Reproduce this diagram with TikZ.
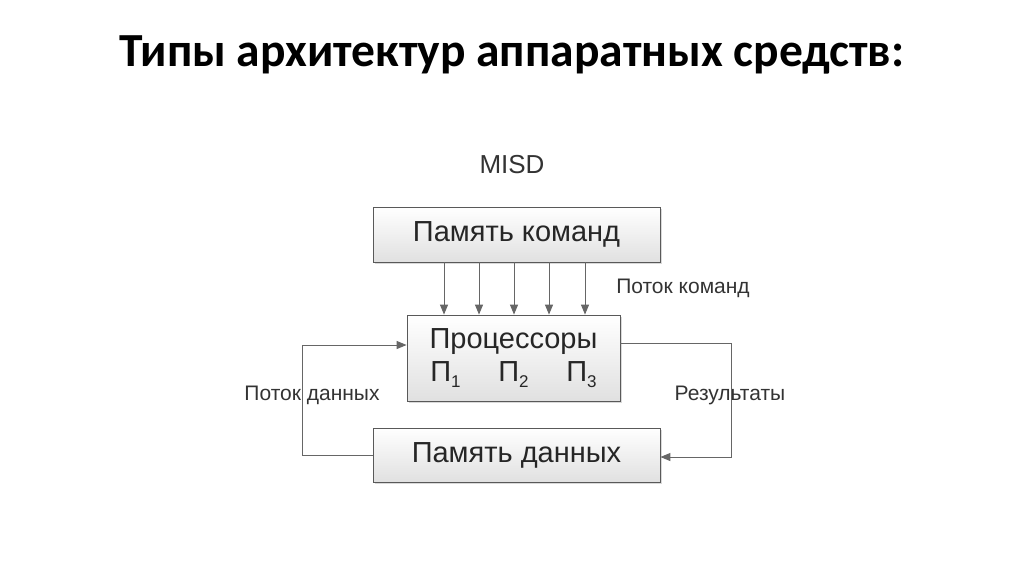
\documentclass[tikz,border=0pt]{standalone}
\usepackage{fontspec}
\setmainfont{Liberation Sans}
\newfontfamily\titlefont{Carlito}
\usetikzlibrary{arrows.meta,shadows}
\newcommand{\psub}[1]{П\raisebox{-0.4ex}{\fontsize{17}{18}\selectfont #1}}
\begin{document}
\begin{tikzpicture}[x=1pt,y=-1pt,
  box/.style={draw=black!65,line width=0.8pt,top color=white,bottom color=black!12,drop shadow={opacity=0.3,shadow xshift=2pt,shadow yshift=-2pt},font=\fontsize{29}{32}\selectfont,text=black!85},
  lbl/.style={font=\fontsize{21}{23}\selectfont,text=black!80},
  conn/.style={draw=black!60,line width=1pt},
  arr/.style={conn,-{Triangle[length=10pt,width=8pt]}}]
\useasboundingbox (0,0) rectangle (1024,574);
\node[font=\titlefont\bfseries\fontsize{47.5}{52}\selectfont] (title) at (512,55) {Типы архитектур аппаратных средств:};
\node[lbl,font=\fontsize{26}{28}\selectfont] (misd) at (512,165) {MISD};
\node[box,minimum width=287pt,minimum height=55pt] (cmd) at (516.5,234.5) {Память команд};
\node[box,minimum width=213pt,minimum height=86pt,align=center] (proc) at (513.5,358) {Процессоры\\[1pt]\psub{1}\hspace{1.3em}\psub{2}\hspace{1.3em}\psub{3}};
\node[box,minimum width=287pt,minimum height=54pt] (data) at (516.5,455) {Память данных};
\foreach \x in {444,479,514,549,585}
  \draw[arr] (\x,0 |- cmd.south) -- (\x,0 |- proc.north);
\coordinate (l1) at (302,455);
\coordinate (l2) at (302,345);
\coordinate (r1) at (731,343);
\coordinate (r2) at (731,457);
\draw[arr] (data.west) -- (l1) -- (l2) -- (proc.west |- l2);
\draw[arr] (proc.east |- r1) -- (r1) -- (r2) -- (data.east |- r2);
\node[lbl] (lc) at (683,288) {Поток команд};
\node[lbl] (ld) at (312,395) {Поток данных};
\node[lbl] (lr) at (730,395) {Результаты};
\end{tikzpicture}
\end{document}
